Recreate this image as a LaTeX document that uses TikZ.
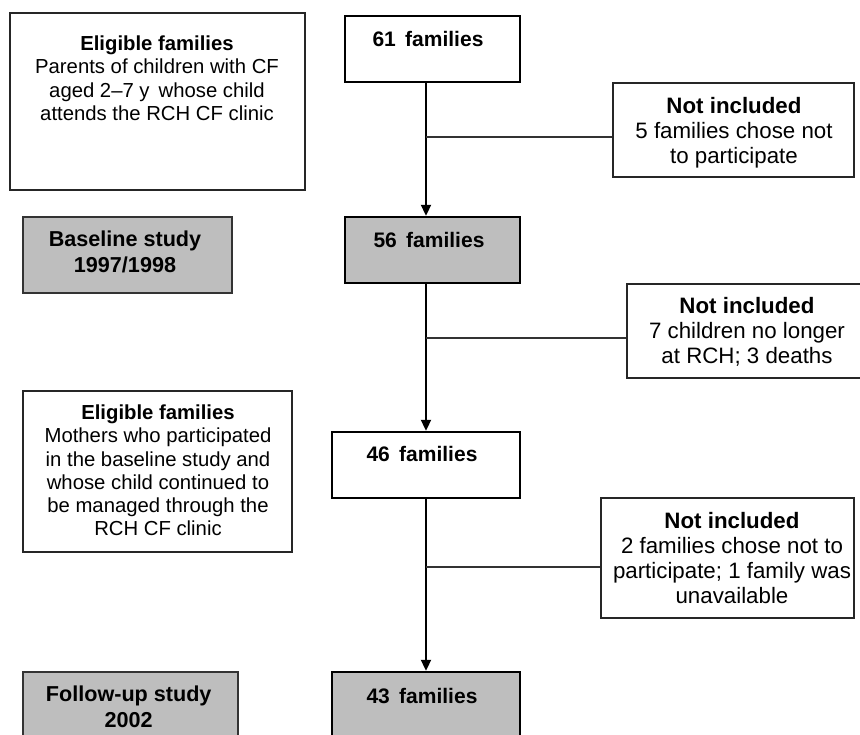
\documentclass[tikz,border=0pt]{standalone}
\usepackage{fontspec}
\setmainfont{Liberation Sans}
\usetikzlibrary{arrows.meta}
\definecolor{boxgrey}{HTML}{BEBEBE}
\tikzset{
  sidebox/.style={draw=black!85, line width=1.4pt, rectangle, inner sep=0pt},
  mainbox/.style={draw=black, line width=2.4pt, rectangle, inner sep=0pt},
  greybox/.style={fill=boxgrey},
  txt/.style={align=center, inner sep=0pt, anchor=north},
  eligtxt/.style={txt, font=\fontsize{20.3}{23.3}\selectfont},
  sidetxt/.style={txt, font=\fontsize{22.3}{25}\selectfont},
  maintxt/.style={txt, font=\fontsize{21}{25}\selectfont},
  studytxt/.style={txt, font=\fontsize{21.6}{26}\selectfont},
  flow/.style={line width=2pt, -{Triangle[length=11pt,width=10pt]}},
  branch/.style={line width=1.5pt, draw=black!80},
}
\begin{document}
\begin{tikzpicture}[x=1pt,y=-1pt]
\useasboundingbox (0,0) rectangle (860,735);
\clip (0,0) rectangle (860,735);
% boxes (pixel corners)
\node[sidebox, minimum width=295pt, minimum height=177pt] (elig1) at (157.5,101.5) {};
\node[mainbox, minimum width=175pt, minimum height=66pt] (n61) at (432.5,49) {};
\node[sidebox, minimum width=241pt, minimum height=94pt] (ni1) at (733.5,130) {};
\node[mainbox, greybox, draw=black!80, line width=1.6pt, minimum width=209pt, minimum height=76pt] (base) at (127.5,255) {};
\node[mainbox, greybox, minimum width=175pt, minimum height=66pt] (n56) at (432.5,250) {};
\node[sidebox, minimum width=240pt, minimum height=94pt] (ni2) at (747,331) {};
\node[sidebox, minimum width=269pt, minimum height=161pt] (elig2) at (157.5,471.5) {};
\node[mainbox, minimum width=188pt, minimum height=66pt] (n46) at (426,465) {};
\node[sidebox, minimum width=253pt, minimum height=120pt] (ni3) at (727.5,558) {};
\node[mainbox, greybox, draw=black!80, line width=1.6pt, minimum width=215pt, minimum height=80pt] (fu) at (130.5,712) {};
\node[mainbox, greybox, minimum width=188pt, minimum height=80pt] (n43) at (426,712) {};
% texts
\node[eligtxt] (t-elig1) at (157,35.5) {\textbf{Eligible families}\\Parents of children with CF\\aged 2--7 y\, whose child\\attends the RCH CF clinic};
\node[maintxt] (t-n61) at (428,31) {\textbf{61\, families}};
\node[sidetxt] (t-ni1) at (734,96.7) {\textbf{Not included}\\5 families chose not\\to participate};
\node[studytxt] (t-base) at (125,231) {\textbf{Baseline study}\\\textbf{1997/1998}};
\node[maintxt] (t-n56) at (429,232) {\textbf{56\, families}};
\node[sidetxt] (t-ni2) at (747,296.7) {\textbf{Not included}\\7 children no longer\\at RCH; 3 deaths};
\node[eligtxt] (t-elig2) at (158,404.5) {\textbf{Eligible families}\\Mothers who participated\\in the baseline study and\\whose child continued to\\be managed through the\\RCH CF clinic};
\node[maintxt] (t-n46) at (422,446) {\textbf{46\, families}};
\node[sidetxt] (t-ni3) at (732,511.7) {\textbf{Not included}\\2 families chose not to\\participate; 1 family was\\unavailable};
\node[studytxt] (t-fu) at (128.7,686) {\textbf{Follow-up study}\\\textbf{2002}};
\node[maintxt] (t-n43) at (422,688) {\textbf{43\, families}};
% trunk and branch points
\coordinate (trunk) at (426,0);
\coordinate (b1) at (426,137);
\coordinate (b2) at (426,338);
\coordinate (b3) at (426,567);
% connectors
\draw[flow] (n61.south -| trunk) -- (n56.north -| trunk);
\draw[flow] (n56.south -| trunk) -- (n46.north -| trunk);
\draw[flow] (n46.south -| trunk) -- (n43.north -| trunk);
\draw[branch] (b1) -- (ni1.west |- b1);
\draw[branch] (b2) -- (ni2.west |- b2);
\draw[branch] (b3) -- (ni3.west |- b3);
\end{tikzpicture}
\end{document}
